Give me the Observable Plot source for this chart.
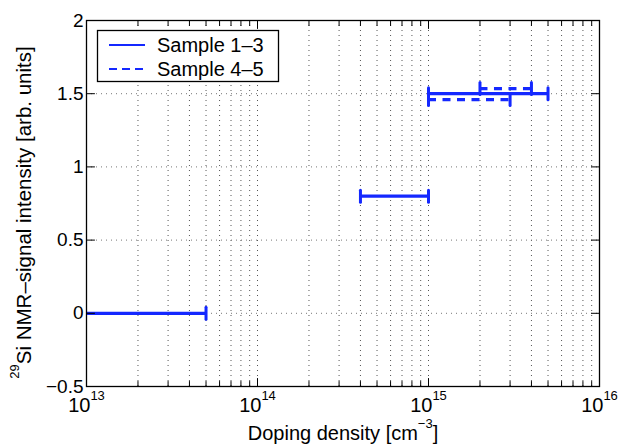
<!DOCTYPE html>
<html>
<head>
<meta charset="utf-8">
<script src="https://cdn.jsdelivr.net/npm/d3@7"></script>
<script src="https://cdn.jsdelivr.net/npm/@observablehq/plot@0.6"></script>
<style>
  html, body { margin: 0; padding: 0; background: white; }
  #chart svg { display: block; }
</style>
</head>
<body>
<div id="chart"></div>
<script>
// ---- data ----
const seriesNames = ["Sample 1\u20133", "Sample 4\u20135"];
// solid (Sample 1–3) ranges
const solidX1 = [1e12, 4e14, 1e15];
const solidX2 = [5e13, 1e15, 5e15];
const solidY  = [0, 0.8, 1.5];
// dashed (Sample 4–5) ranges
const dashX1 = [2e15, 1e15];
const dashX2 = [4e15, 3e15];
const dashY  = [1.535, 1.46];

// ticks
const xMajor = [1e13, 1e14, 1e15, 1e16];
const xTickLabels = ["10^{13}", "10^{14}", "10^{15}", "10^{16}"];
const minorMult = [2, 3, 4, 5, 6, 7, 8, 9];
const yTicks = [-0.5, 0, 0.5, 1, 1.5, 2];
const yTickLabels = ["\u22120.5", "0", "0.5", "1", "1.5", "2"];
const xLabel = "Doping density [cm^{\u22123}]";
const yLabel = "^{29}Si NMR\u2013signal intensity [arb. units]";

// ---- build ----
const solid = solidY.map((y, i) => ({x1: solidX1[i], x2: solidX2[i], y}));
const dashed = dashY.map((y, i) => ({x1: dashX1[i], x2: dashX2[i], y}));
const caps = d => d.flatMap(s => [{x: s.x1, y: s.y}, {x: s.x2, y: s.y}]);
const xMinor = xMajor.slice(0, -1).flatMap(d => minorMult.map(m => d * m));
const xGrid = xMajor.concat(xMinor);

const blue = "#1428ff";
const tickShape = {draw(ctx, l) { ctx.moveTo(0, 0); ctx.lineTo(0, -l); }};
const T = (data, opts) => Plot.vector(data, {shape: tickShape, anchor: "start", stroke: "black", strokeWidth: 1, ...opts});

const plot = Plot.plot({
  width: 621,
  height: 447,
  marginLeft: 86,
  marginRight: 22,
  marginTop: 20,
  marginBottom: 61,
  style: {fontFamily: "'Liberation Sans', Arial, Helvetica, sans-serif", background: "white", color: "black"},
  x: {type: "log", domain: [1e13, 1e16], axis: null},
  y: {domain: [-0.5, 2], axis: null},
  marks: [
    // grid
    Plot.ruleX(xGrid, {x: d => d, stroke: "#555", strokeDasharray: "1,4", strokeWidth: 1}),
    Plot.ruleY(yTicks, {y: d => d, stroke: "#777", strokeDasharray: "1,4", strokeWidth: 1}),
    // data
    Plot.ruleY(solid, {y: "y", x1: "x1", x2: "x2", stroke: blue, strokeWidth: 3.2, clip: true}),
    Plot.vector(caps(solid), {x: "x", y: "y", length: 12, anchor: "middle", shape: tickShape, stroke: blue, strokeWidth: 3, clip: true}),
    Plot.ruleY(dashed, {y: "y", x1: "x1", x2: "x2", stroke: blue, strokeWidth: 3.2, strokeDasharray: "8,6.5"}),
    Plot.vector(caps(dashed), {x: "x", y: "y", length: 12, anchor: "middle", shape: tickShape, stroke: blue, strokeWidth: 3}),
    // frame
    Plot.frame({stroke: "black", strokeWidth: 1.3}),
    // inward ticks
    T(xMajor, {x: d => d, frameAnchor: "bottom", length: 8}),
    T(xMinor, {x: d => d, frameAnchor: "bottom", length: 5}),
    T(xMajor, {x: d => d, frameAnchor: "top", length: 8, rotate: 180}),
    T(xMinor, {x: d => d, frameAnchor: "top", length: 5, rotate: 180}),
    T(yTicks, {y: d => d, frameAnchor: "left", length: 8, rotate: 90}),
    T(yTicks, {y: d => d, frameAnchor: "right", length: 8, rotate: -90}),
    // tick labels
    Plot.text(xMajor, {x: d => d, frameAnchor: "bottom", text: (d, i) => xTickLabels[i], dy: 25, fontSize: 20, fill: "black"}),
    Plot.text(yTicks, {y: d => d, frameAnchor: "left", text: (d, i) => yTickLabels[i], textAnchor: "end", dx: -3, fontSize: 19, fill: "black"}),
    // axis labels
    Plot.text([xLabel], {frameAnchor: "bottom", text: d => d, textAnchor: "middle", dy: 53, fontSize: 20, fill: "black"}),
    Plot.text([yLabel], {frameAnchor: "left", text: d => d, textAnchor: "middle", rotate: -90, dx: -62, dy: 9, fontSize: 20.5, fill: "black"})
  ]
});

// superscript handling
plot.querySelectorAll("text").forEach(t => {
  const s = t.textContent;
  if (!s.includes("^{")) return;
  t.textContent = "";
  const re = /\^\{([^}]*)\}/g;
  let last = 0, m, shift = 0;
  const add = (txt, sup) => {
    const ts = document.createElementNS("http://www.w3.org/2000/svg", "tspan");
    ts.textContent = txt;
    if (sup) { ts.setAttribute("font-size", "13"); ts.setAttribute("dy", "-12"); shift = 12; }
    else if (shift) { ts.setAttribute("dy", String(shift)); shift = 0; }
    t.appendChild(ts);
  };
  while ((m = re.exec(s))) {
    if (m.index > last) add(s.slice(last, m.index), false);
    add(m[1], true);
    last = re.lastIndex;
  }
  if (last < s.length) add(s.slice(last), false);
});

// legend (inside plot, top-left)
const svg = d3.select(plot);
const lg = svg.append("g").attr("font-family", "'Liberation Sans', Arial, sans-serif").attr("text-anchor", "start");
lg.append("rect").attr("x", 97.5).attr("y", 30.5).attr("width", 181).attr("height", 51)
  .attr("fill", "white").attr("stroke", "black").attr("stroke-width", 1.3);
[{y: 45, dash: null}, {y: 69, dash: "8,5"}].forEach((e, i) => {
  lg.append("line").attr("x1", 109).attr("x2", 145).attr("y1", e.y).attr("y2", e.y)
    .attr("stroke", blue).attr("stroke-width", 2).attr("stroke-dasharray", e.dash);
  lg.append("text").attr("x", 157).attr("y", e.y).attr("dy", "0.35em").attr("text-anchor", "start")
    .attr("font-size", 20).attr("fill", "black").text(seriesNames[i]);
});

document.getElementById("chart").appendChild(plot);
</script>
</body>
</html>
